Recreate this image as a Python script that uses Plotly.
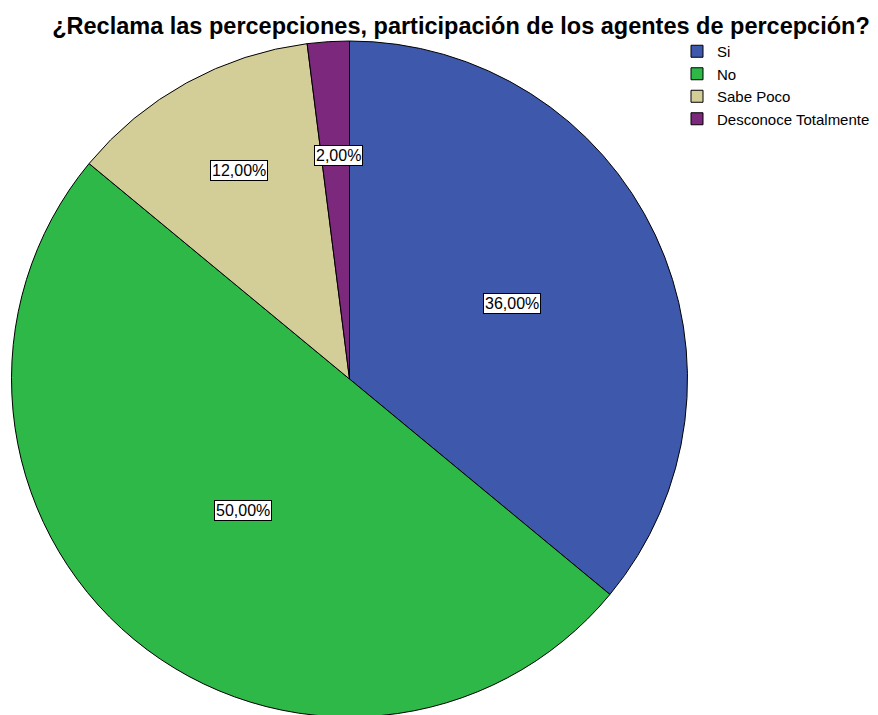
import math
import plotly.graph_objects as go

categories = ["Si", "No", "Sabe Poco", "Desconoce Totalmente"]
percent = [36.0, 50.0, 12.0, 2.0]
labels = ["36,00%", "50,00%", "12,00%", "2,00%"]
colors = ["#3E58AC", "#2EB848", "#D3CE97", "#7B287D"]

W, H = 878, 715

# pie geometry (paper fractions), nudged so the circle lands where SPSS drew it
dom_x = [2.5 / W, 680.5 / W]
dom_y = [6 / H, 682 / H]

fig = go.Figure(go.Pie(
    labels=categories,
    values=percent,
    sort=False,
    direction="clockwise",
    rotation=0,
    marker=dict(colors=colors, line=dict(color="black", width=1)),
    textinfo="none",
    hoverinfo="label+percent",
    domain=dict(x=dom_x, y=dom_y),
))

# boxed labels like SPSS, placed along each slice's mid angle
label_r = [0.52, 0.51, 0.70, 0.66]
cx, cy, rad = 345, 345, 338  # label centre (px from left / bottom) and radius
total = sum(percent)
cum = 0
for v, txt, rf in zip(percent, labels, label_r):
    mid = (cum + v / 2) / total * 2 * math.pi
    cum += v
    px_ = cx + math.sin(mid) * rad * rf
    py_ = cy + math.cos(mid) * rad * rf
    fig.add_annotation(
        x=px_ / W, y=py_ / H, xref="paper", yref="paper",
        xanchor="center", yanchor="middle",
        text=txt, showarrow=False,
        font=dict(family="Liberation Sans, Arial", size=16, color="black"),
        bgcolor="white", bordercolor="black", borderwidth=1, borderpad=1,
    )

fig.update_layout(
    width=W, height=H,
    margin=dict(l=0, r=0, t=0, b=0),
    paper_bgcolor="white",
    title=dict(
        text="<b>¿Reclama las percepciones, participación de los agentes de percepción?</b>",
        x=453 / W, xanchor="center", y=1 - 18 / H, yanchor="middle",
        font=dict(family="Liberation Sans, Arial", size=23.5, color="black"),
    ),
    legend=dict(
        x=669 / W, y=1 - 27 / H, xanchor="left", yanchor="top",
        font=dict(family="Liberation Sans, Arial", size=15, color="black"),
        tracegroupgap=0, itemwidth=30,
        bgcolor="rgba(0,0,0,0)",
    ),
)

fig.write_html("out.html")
